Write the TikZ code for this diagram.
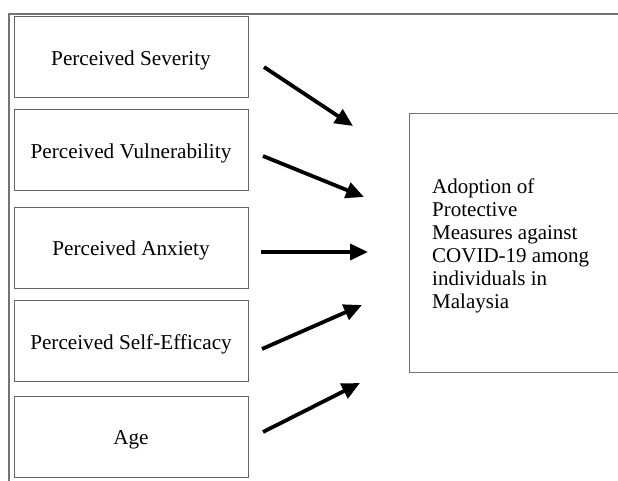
\documentclass[tikz,border=0pt]{standalone}
\usepackage{fontspec}
\setmainfont{Liberation Serif}
\usetikzlibrary{arrows.meta}
\begin{document}
\begin{tikzpicture}[x=1pt,y=-1pt,
  varbox/.style={draw=black!60,line width=1pt,minimum width=234pt,minimum height=81pt,inner sep=0pt,text height=16pt,text depth=0pt,font=\fontsize{21.2}{24}\selectfont},
  outbox/.style={draw=black!55,line width=1pt},
  frame/.style={draw=black!55,line width=1.5pt},
  arr/.style={line width=3.8pt,-{Triangle[length=18pt,width=16pt]}}]
\useasboundingbox (0,0) rectangle (618,480);
\begin{scope}
\clip (0,0) rectangle (618,480);
\draw[frame] (9,482) -- (9,14) -- (620,14);
\draw[outbox] (630,113) -- (409,113) -- (409,372) -- (630,372);
\end{scope}
\node[varbox] (sev) at (131,57) {Perceived Severity};
\node[varbox] (vul) at (131,150) {Perceived Vulnerability};
\node[varbox] (anx) at (131,247.5) {Perceived Anxiety};
\node[varbox] (eff) at (131,341) {Perceived Self-Efficacy};
\node[varbox] (age) at (131,436.5) {Age};
\node[anchor=west,align=left,inner sep=0pt,font=\fontsize{21}{23}\selectfont] (out) at (432,246)
  {Adoption of\\Protective\\Measures against\\COVID-19 among\\individuals in\\Malaysia};
\coordinate (s1) at (264,67); \coordinate (e1) at (353,126);
\coordinate (s2) at (263,156); \coordinate (e2) at (364,197);
\coordinate (s3) at (261,252); \coordinate (e3) at (368,252);
\coordinate (s4) at (262,349); \coordinate (e4) at (362,305);
\coordinate (s5) at (263,432); \coordinate (e5) at (360,383);
\draw[arr] (s1) -- (e1);
\draw[arr] (s2) -- (e2);
\draw[arr] (s3) -- (e3);
\draw[arr] (s4) -- (e4);
\draw[arr] (s5) -- (e5);
\end{tikzpicture}
\end{document}
